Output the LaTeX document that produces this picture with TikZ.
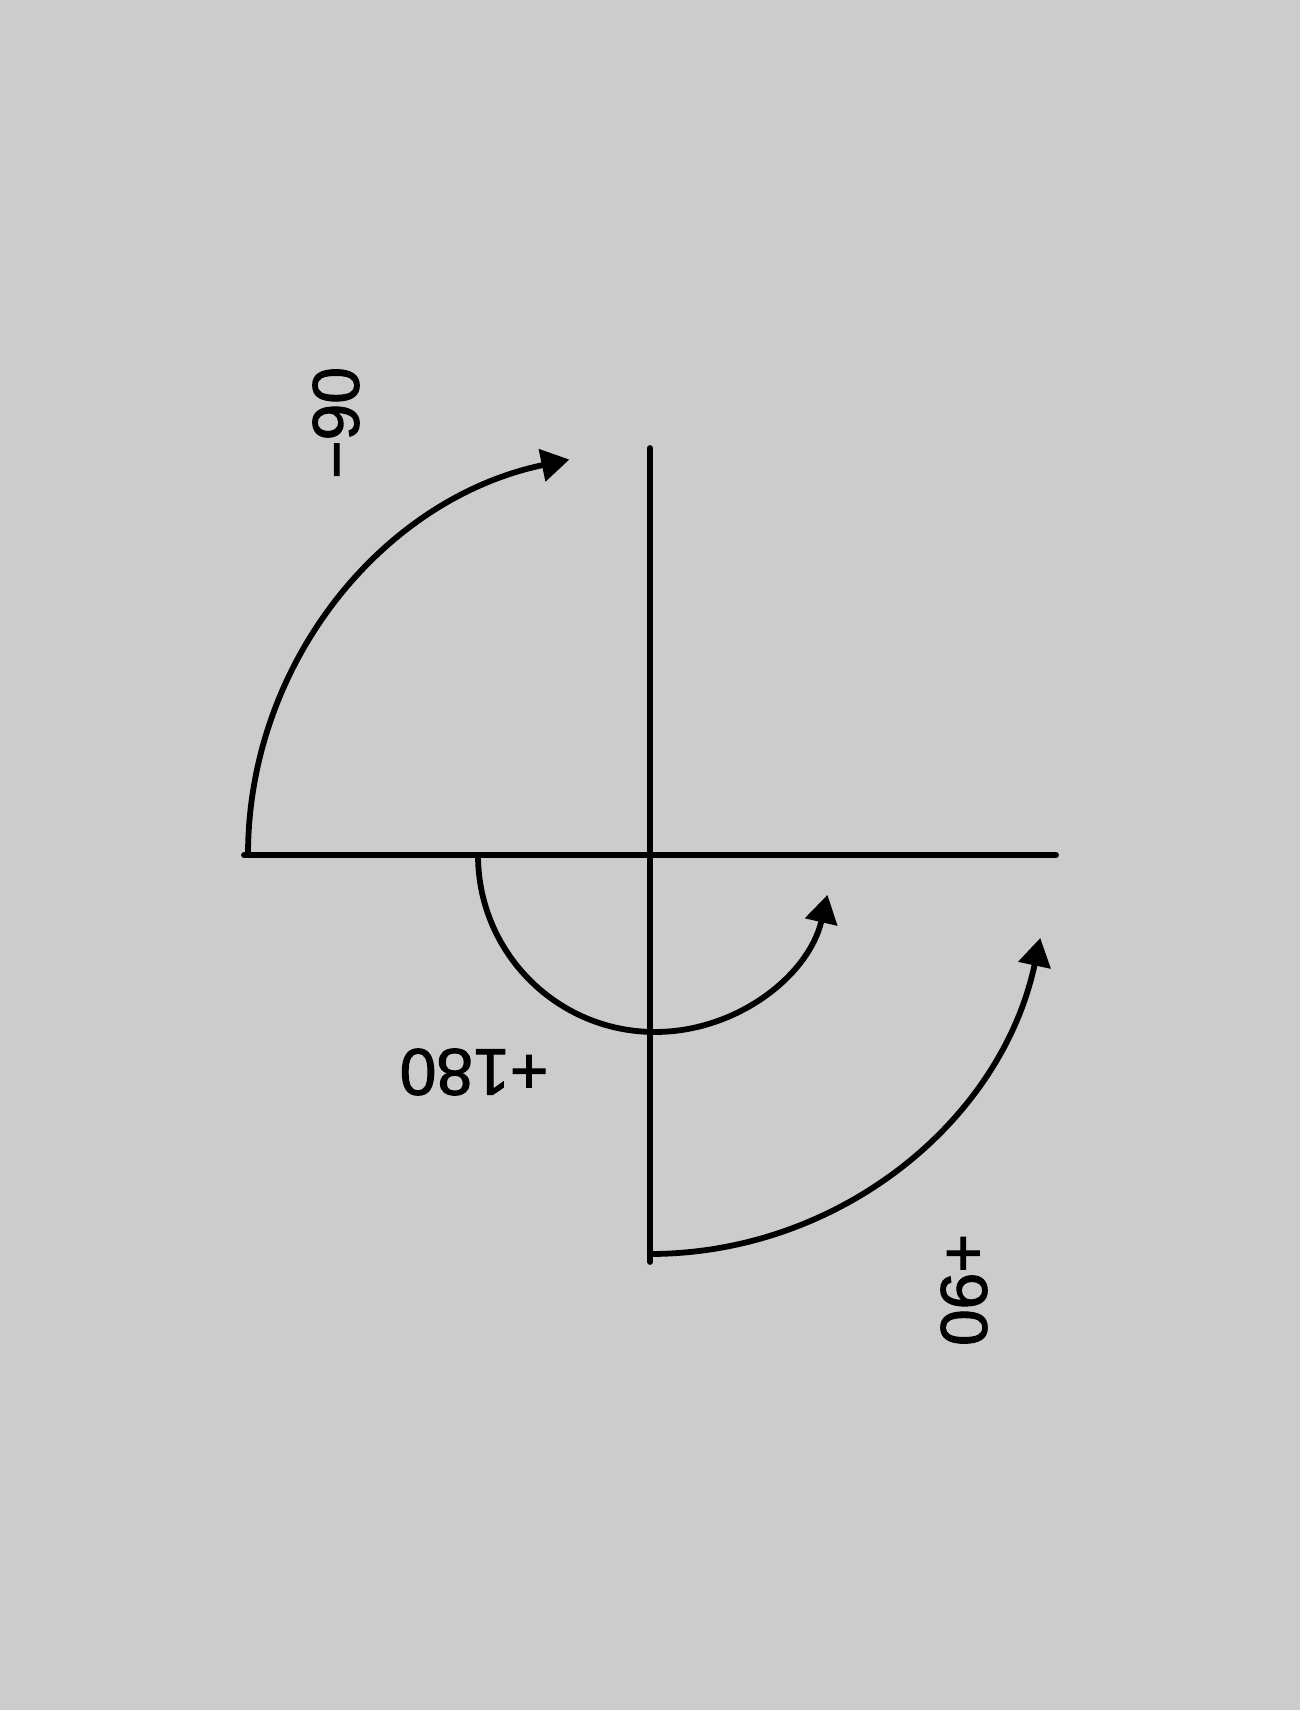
\documentclass[tikz,border=0pt]{standalone}
\usepackage{fontspec}
\setmainfont[FakeBold=1.5]{Liberation Sans}
\usetikzlibrary{arrows.meta}
\definecolor{bg}{HTML}{CCCCCC}
\begin{document}
\begin{tikzpicture}[x=0.5pt,y=0.5pt,
  axis/.style={line width=2.9pt,line cap=round},
  turn/.style={line width=2.9pt,-{Triangle[length=14pt,width=16pt]}},
  lbl/.style={font=\fontsize{33}{33}\selectfont,inner sep=0pt}]
\useasboundingbox (0,0) rectangle (1300,1710);
\fill[bg] (0,0) rectangle (1300,1710);
% axes
\coordinate (O) at (650,855);
\coordinate (L) at (244,855);
\coordinate (R) at (1056,855);
\coordinate (T) at (650,1262);
\coordinate (B) at (650,448);
\draw[axis] (L) -- (R);
\draw[axis] (T) -- (B);
% arcs
\coordinate (A1) at (248,855);
\draw[turn] (A1) arc[start angle=180,end angle=101.8,radius=404];
\coordinate (A2) at (650,456);
\draw[turn] (A2) arc[start angle=-90,end angle=-12,radius=399];
\coordinate (A3) at (478,855);
\draw[turn] (A3) arc[start angle=180,end angle=347,radius=177];
% labels
\node[lbl,rotate=90] (m90) at (336,1287) {−90};
\node[lbl,rotate=180] (p180) at (474,638) {+180};
\node[lbl,rotate=-90] (p90) at (964,420) {+90};
\end{tikzpicture}
\end{document}
